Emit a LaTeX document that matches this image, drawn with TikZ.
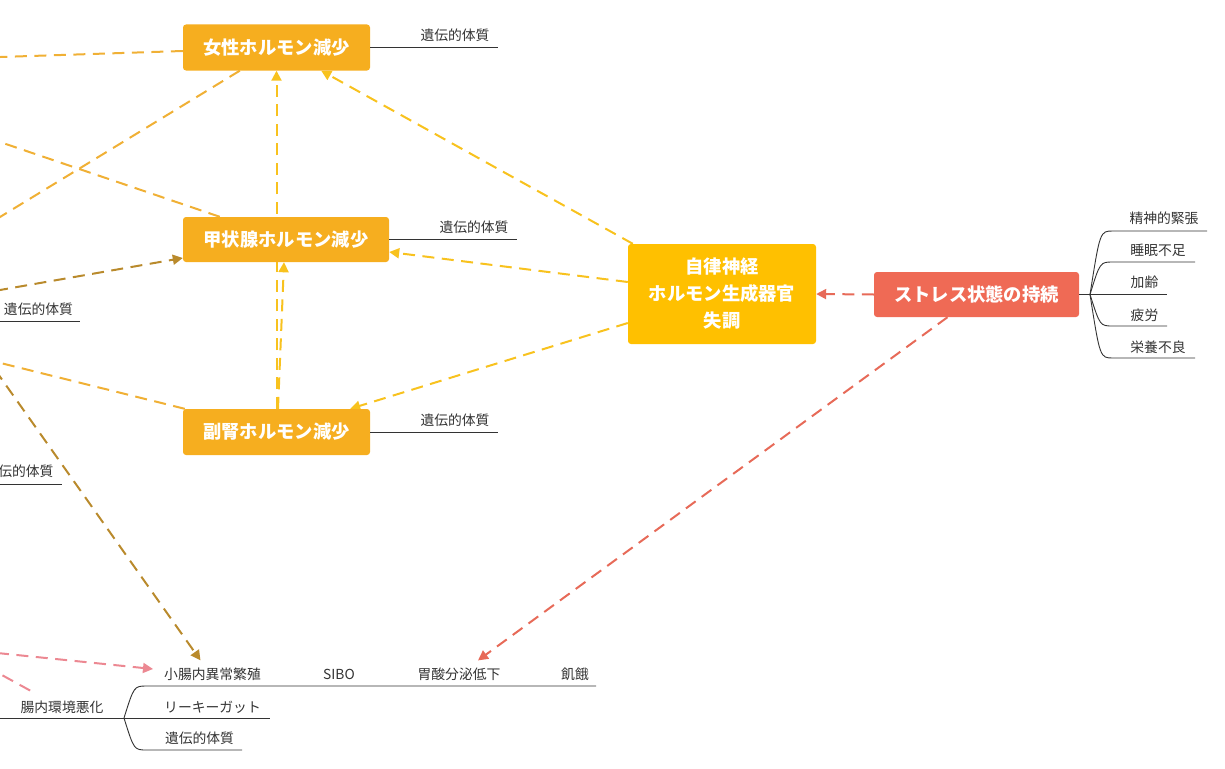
\documentclass[tikz,border=0pt]{standalone}
\usepackage{fontspec}
\setmainfont{Noto Sans CJK JP}
\usetikzlibrary{arrows.meta}
\pgfdeclarelayer{bg}
\pgfsetlayers{bg,main}
\definecolor{boxor}{HTML}{F6AE1F}
\definecolor{boxyl}{HTML}{FFC000}
\definecolor{boxrd}{HTML}{EF6A55}
\definecolor{lnor}{HTML}{F0B035}
\definecolor{lnyl}{HTML}{F8C21E}
\definecolor{lnbr}{HTML}{B98A2C}
\definecolor{lnrd}{HTML}{E76A58}
\definecolor{lnpk}{HTML}{EC8892}
\definecolor{txt}{HTML}{333333}
\begin{document}
\begin{tikzpicture}[x=1pt,y=-1pt,
 box/.style={rectangle, rounded corners=3pt, text=white, font=\fontsize{18.3}{27}\selectfont\bfseries, inner sep=0pt, align=center},
 lbl/.style={text=txt, font=\fontsize{13.8}{16}\selectfont, inner sep=0pt},
 uline/.style={draw=txt, line width=0.9pt},
 conn/.style={line width=2pt, dash pattern=on 12pt off 7.5pt},
 tip/.style={-{Triangle[length=10pt,width=10pt]}},
]
\useasboundingbox (0,0) rectangle (1225,768);
\clip (0,0) rectangle (1225,768);

% boxes
\node[box, fill=boxor, minimum width=187pt, minimum height=46pt] (f) at (276.5,47.5) {女性ホルモン減少};
\node[box, fill=boxor, minimum width=206pt, minimum height=45pt] (k) at (286,239.5) {甲状腺ホルモン減少};
\node[box, fill=boxor, minimum width=187pt, minimum height=46pt] (h) at (276.5,432) {副腎ホルモン減少};
\node[box, fill=boxyl, minimum width=188pt, minimum height=100pt] (j) at (722,294) {自律神経\\ホルモン生成器官\\失調};
\node[box, fill=boxrd, minimum width=205pt, minimum height=45pt] (s) at (976.5,294.5) {ストレス状態の持続};

% labels beside boxes
\node[lbl] (f1) at (455,35) {遺伝的体質};
\draw[uline] (f.east) -- ++(128,0);
\node[lbl] (k1) at (474,227) {遺伝的体質};
\draw[uline] (k.east) -- ++(128,0);
\node[lbl] (h1) at (455,420) {遺伝的体質};
\draw[uline] (h.east) -- ++(128,0);

% left labels
\node[lbl] (g1) at (38.5,309) {遺伝的体質};
\coordinate (g1a) at (0,321);
\draw[uline] (g1a) -- ++(80,0);
\node[lbl] (g2) at (19,471) {遺伝的体質};
\coordinate (g2a) at (0,484);
\draw[uline] (g2a) -- ++(62,0);

% right tree
\coordinate (sb) at (1090,294.5);
\draw[uline] (s.east) -- (sb);
\node[lbl] (r1) at (1164,218) {精神的緊張};
\node[lbl] (r2) at (1158,250) {睡眠不足};
\node[lbl] (r3) at (1144.5,282) {加齢};
\node[lbl] (r4) at (1144.5,315) {疲労};
\node[lbl] (r5) at (1158,347) {栄養不良};
\draw[uline] (sb) .. controls (1100,231) .. (1113,231) -- (1207,231);
\draw[uline] (sb) .. controls (1100,262) .. (1113,262) -- (1195,262);
\draw[uline] (sb) -- (1167,294.5);
\draw[uline] (sb) .. controls (1100,326) .. (1113,326) -- (1167,326);
\draw[uline] (sb) .. controls (1100,358) .. (1113,358) -- (1195,358);

% bottom tree
\node[lbl] (b0) at (62,707) {腸内環境悪化};
\node[lbl] (b1) at (212.5,674) {小腸内異常繁殖};
\node[lbl] (b2) at (339,674) {SIBO};
\node[lbl] (b3) at (459,674) {胃酸分泌低下};
\node[lbl] (b4) at (575,674) {飢餓};
\node[lbl] (b5) at (212.5,707) {リーキーガット};
\node[lbl] (b6) at (199.5,738) {遺伝的体質};
\coordinate (bl) at (0,718);
\coordinate (bb) at (124,718);
\draw[uline] (bl) -- (bb);
\draw[uline] (bb) .. controls (134,686) .. (147,686) -- (596,686);
\draw[uline] (bb) -- (270,718);
\draw[uline] (bb) .. controls (134,750) .. (147,750) -- (242,750);

% off-canvas ends
\coordinate (o1) at (-100,60.3);
\coordinate (o2) at (-100,278);
\coordinate (o3) at (-100,108);
\coordinate (o4) at (-100,307.5);
\coordinate (o5) at (-100,338);
\coordinate (o6) at (-50,306);
\coordinate (o7) at (-100,643);
\coordinate (o8) at (-100,619);

\begin{pgfonlayer}{bg}
\clip (0,0) rectangle (1225,768);
% orange lines leaving to the left
\draw[conn, lnor] ([yshift=-3.5pt]f.west) -- (o1);
\draw[conn, lnor] ([xshift=57pt]f.south west) -- (o2);
\draw[conn, lnor] ([xshift=37pt]k.north west) -- (o3);
\draw[conn, lnor] ([xshift=2pt]h.north west) -- (o5);
% brown arrows
\draw[conn, lnbr, tip] (o4) -- ([yshift=-18.5pt]k.west);
\draw[conn, lnbr, tip] (o6) -- ([xshift=-12pt,yshift=7pt]b1.north);
% pink
\draw[conn, lnpk, tip] (o7) -- ([xshift=-11pt,yshift=5pt]b1.west);
\draw[conn, lnpk] (o8) -- ([xshift=15pt,yshift=7pt]b0.north west);
% yellow arrows
\draw[conn, lnyl, tip] (h.north) -- (f.south);
\draw[conn, lnyl, tip] ([xshift=1.5pt]h.north) -- ([xshift=-2pt]k.south);
\draw[conn, lnyl, tip] ([xshift=5pt]j.north west) -- ([xshift=-49pt]f.south east);
\draw[conn, lnyl, tip] ([yshift=12pt]j.west) -- ([yshift=-12.5pt]k.east);
\draw[conn, lnyl, tip] ([yshift=-29pt]j.west) -- ([xshift=-20pt]h.north east);
% red arrows
\draw[conn, lnrd, tip] (s.west) -- (j.east);
\draw[conn, lnrd, tip] ([xshift=-29pt]s.south) -- ([xshift=19pt,yshift=7pt]b3.north);
\end{pgfonlayer}
\end{tikzpicture}
\end{document}
